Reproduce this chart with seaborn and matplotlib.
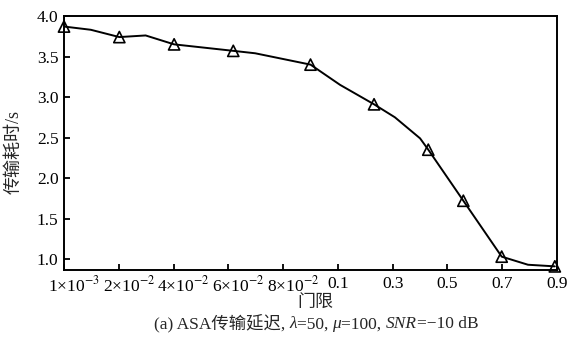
import numpy as np
import pandas as pd
import matplotlib
matplotlib.use('Agg')
import matplotlib.pyplot as plt
import matplotlib.transforms as mtrans
import seaborn as sns

# threshold tick labels (equally spaced positions 0..9)
tick_labels = ['1×10$^{-3}$', '2×10$^{-2}$', '4×10$^{-2}$', '6×10$^{-2}$', '8×10$^{-2}$',
               '0.1', '0.3', '0.5', '0.7', '0.9']

# curve vertices, x given in tick-index units
pos = [0, 0.49, 1.01, 1.49, 2.01, 3.09, 3.49, 4.5, 5.04, 5.66,
       6.04, 6.5, 6.65, 7.29, 7.99, 8.47, 8.96]
delay = [3.87, 3.83, 3.74, 3.76, 3.65, 3.57, 3.54, 3.40, 3.15, 2.91,
         2.75, 2.49, 2.35, 1.72, 1.03, 0.93, 0.91]
# which vertices carry a triangle marker
marked = [0, 2, 4, 5, 7, 9, 12, 13, 14, 16]

# caption pieces: (text, italic)
caption = [('(a) ASA传输延迟, ', False), ('λ', True), ('=50, ', False), ('μ', True),
           ('=100, ', False), ('SNR', True), ('=−10 dB', False)]

df = pd.DataFrame({'pos': pos, 'delay': delay})
dm = df.iloc[marked]

sns.set_style('ticks')
fams = ['Liberation Serif', 'Noto Sans CJK SC']
plt.rcParams['font.family'] = fams
plt.rcParams['mathtext.fontset'] = 'stix'
plt.rcParams['axes.unicode_minus'] = True

fig = plt.figure(figsize=(5.72, 3.42), dpi=100)
ax = fig.add_axes([0.1119, 0.2105, 0.8619, 0.7427])

sns.lineplot(data=df, x='pos', y='delay', color='black', lw=1.4, sort=False, ax=ax)
sns.scatterplot(data=dm, x='pos', y='delay', marker='^', s=65, facecolor='none',
                edgecolor='black', linewidth=1.2, ax=ax, clip_on=False, zorder=5)

ax.set_xlim(0, 9)
ax.set_ylim(0.865, 4.0)
ax.set_xticks(range(10))
ax.set_xticklabels(tick_labels)
ax.set_yticks([1.0, 1.5, 2.0, 2.5, 3.0, 3.5, 4.0])
ax.set_yticklabels(['1.0', '1.5', '2.0', '2.5', '3.0', '3.5', '4.0'])
ax.tick_params(direction='in', length=4, width=1.3, labelsize=12.5, colors='black', pad=4)

# the power-of-ten labels sit a bit right of their ticks in the original
nudge = mtrans.ScaledTranslation(0.10, 0, fig.dpi_scale_trans)
for lab in ax.get_xticklabels()[:5]:
    lab.set_transform(lab.get_transform() + nudge)

for s in ax.spines.values():
    s.set_linewidth(1.4)
    s.set_color('black')

ax.set_xlabel('门限', fontsize=13)
ax.xaxis.set_label_coords(0.51, -0.092)
ax.set_ylabel('传输耗时/s', fontsize=13)
ax.yaxis.set_label_coords(-0.084, 0.465)

# caption built from pieces so Chinese and italic letters can mix
r = fig.canvas.get_renderer()
texts = []
x = 0
for s, it in caption:
    t = fig.text(x, 0.028, s, fontsize=12.5, family=fams,
                 style='italic' if it else 'normal', ha='left', va='bottom')
    texts.append(t)
    w = t.get_window_extent(r).width / fig.bbox.width
    x += w
shift = 316 / 572 - x / 2
for t in texts:
    px, py = t.get_position()
    t.set_position((px + shift, py))

fig.savefig('out.png', dpi=100)
